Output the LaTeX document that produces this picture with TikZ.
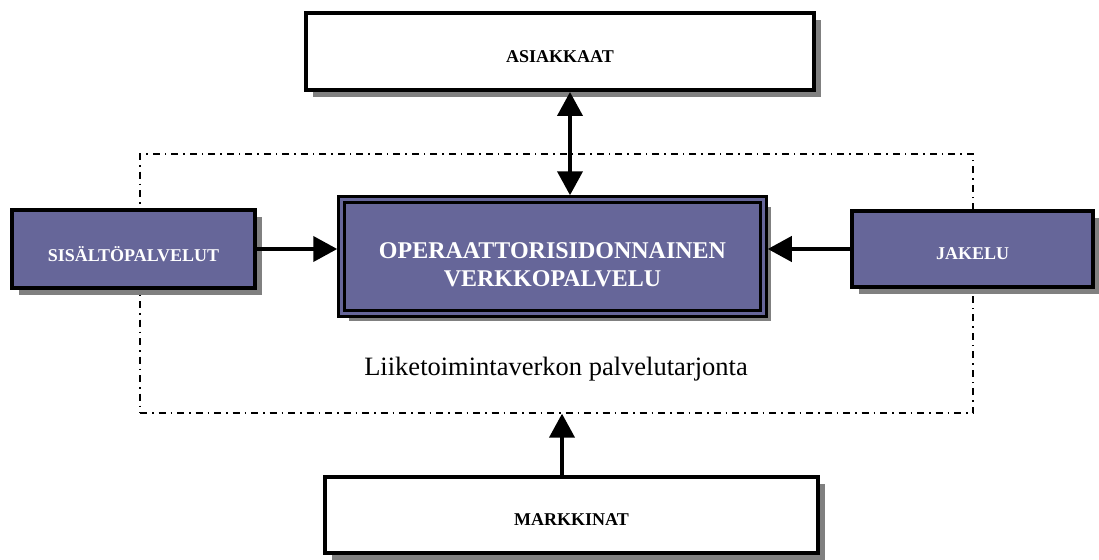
\documentclass[tikz,border=0pt]{standalone}
\usepackage{fontspec}
\setmainfont{Liberation Serif}
\usetikzlibrary{arrows.meta,positioning,shadows}
\definecolor{ink}{HTML}{000000}
\definecolor{service}{HTML}{666699}
\definecolor{shade}{HTML}{808080}
\tikzset{
  >={Triangle[length=24pt,width=25pt]},
  every node/.style={text=ink},
  box/.style={draw=ink,line width=4pt,fill=white,inner sep=0pt,outer sep=2pt,
    drop shadow={shadow xshift=7pt,shadow yshift=-7pt,fill=shade,opacity=1}},
  servicebox/.style={box,fill=service},
  corebox/.style={servicebox,line width=3pt,double=service,double distance=2.5pt,outer sep=4.25pt},
  boxtext/.style={font=\fontsize{18}{21.6}\selectfont\bfseries,yshift=-5pt},
  lighttext/.style={boxtext,text=white},
  coretext/.style={font=\fontsize{24}{27.6}\selectfont\bfseries,text=white,align=center,yshift=-8.5pt},
  arrow/.style={->,line width=4pt,draw=ink},
  frame/.style={draw=ink,line width=1.3pt,dash pattern=on 7pt off 5pt on 1.5pt off 5pt,inner sep=0pt},
}

\begin{document}
\begin{tikzpicture}[x=1pt,y=-1pt]
\useasboundingbox (0,0) rectangle (1099,559);
% service offering of the business network
\node[frame,minimum width=833pt,minimum height=259pt] (tarjonta) at (556.5,283.5) {};
\node[font=\fontsize{26.5}{30}\selectfont] (otsikko) at (556,369) {Liiketoimintaverkon palvelutarjonta};
\node[box,minimum width=508pt,minimum height=77pt,label={[boxtext]center:ASIAKKAAT}] (asiakkaat) at (560,51.5) {};
\node[servicebox,minimum width=243pt,minimum height=78pt,label={[lighttext]center:SISÄLTÖPALVELUT}] (sisalto) at (133.5,249) {};
\node[corebox,minimum width=422pt,minimum height=114pt,label={[coretext]center:OPERAATTORISIDONNAINEN\\VERKKOPALVELU}] (verkkopalvelu) at (552.5,256.5) {};
\node[servicebox,minimum width=241pt,minimum height=76pt,label={[lighttext]center:JAKELU}] (jakelu) at (972.5,249) {};
\node[box,minimum width=493pt,minimum height=76pt,label={[boxtext]center:MARKKINAT}] (markkinat) at (571.5,515) {};
\coordinate (markkinat-in) at ([xshift=-9.5pt]markkinat.north);
% connectors
\draw[arrow,<->] ([xshift=10pt]asiakkaat.south) -- ([xshift=17.5pt]verkkopalvelu.north);
\draw[arrow] (sisalto.east) -- (sisalto.east -| verkkopalvelu.west);
\draw[arrow] (jakelu.west) -- (jakelu.west -| verkkopalvelu.east);
\draw[arrow] (markkinat-in) -- (markkinat-in |- tarjonta.south);
\end{tikzpicture}
\end{document}
